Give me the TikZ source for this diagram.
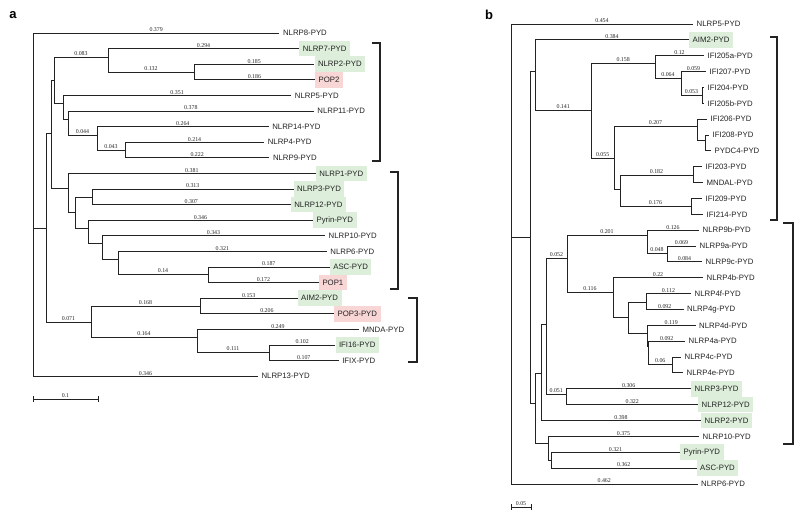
\documentclass[tikz,border=0pt]{standalone}
\usepackage{fontspec}
\setmainfont{Liberation Sans}
\newfontfamily\numfont{Liberation Serif}
\definecolor{greenhl}{RGB}{221,239,219}
\definecolor{pinkhl}{RGB}{249,214,214}
\definecolor{ink}{RGB}{35,35,35}
\tikzset{
  br/.style={line width=0.95pt, draw=ink},
  tip/.style={anchor=west, font=\fontsize{7.8}{8}\selectfont, text=ink, inner xsep=3.5pt, inner ysep=0pt, minimum height=15.6pt},
  gbox/.style={fill=greenhl},
  pbox/.style={fill=pinkhl},
  num/.style={font=\numfont\fontsize{5.9}{6}\selectfont, anchor=south, inner sep=0.6pt, text=ink},
  brk/.style={line width=1.05pt, draw=ink},
  panel/.style={font=\fontsize{13}{13}\selectfont\bfseries, text=black}
}
\newcommand\tedge[3]{\draw[br] (#1) |- node[num,pos=0.75]{#3} (#2);}
\newcommand\pedge[2]{\draw[br] (#1) |- (#2);}
\begin{document}
\begin{tikzpicture}[x=1pt,y=-1pt]
\path[use as bounding box] (0,0) rectangle (800,518);
% ---------------- panel a ----------------
\node[panel] (pa) at (13,15) {a};
% internal nodes
\coordinate (aR) at (33,228);
\coordinate (aA) at (46,228);
\coordinate (aB) at (51,133);
\coordinate (aC) at (54,80);
\coordinate (aE) at (108,57);
\coordinate (aG) at (194,72);
\coordinate (aF) at (63,103);
\coordinate (aH) at (68,119);
\coordinate (aI) at (97,135);
\coordinate (aJ) at (125,150);
\coordinate (aD) at (68,188);
\coordinate (aK) at (75,212);
\coordinate (aL) at (92,197);
\coordinate (aM) at (88,228);
\coordinate (aN) at (102,243);
\coordinate (aO) at (118,259);
\coordinate (aP) at (208,274);
\coordinate (aX) at (91,322);
\coordinate (aY) at (200,306);
\coordinate (aZ) at (197,337);
\coordinate (aW) at (269,352);
% tips
\node[tip] (aNLRP8) at (279.4,33) {NLRP8-PYD};
\node[tip,gbox] (aNLRP7) at (299.1,48.6) {NLRP7-PYD};
\node[tip,gbox] (aNLRP2) at (314.3,64.2) {NLRP2-PYD};
\node[tip,pbox] (aPOP2) at (314.9,79.8) {POP2\hspace{8pt}};
\node[tip] (aNLRP5) at (291.2,95.4) {NLRP5-PYD};
\node[tip] (aNLRP11) at (313.7,111) {NLRP11-PYD};
\node[tip] (aNLRP14) at (268.6,126.6) {NLRP14-PYD};
\node[tip] (aNLRP4) at (264.1,142.2) {NLRP4-PYD};
\node[tip] (aNLRP9) at (269.3,157.8) {NLRP9-PYD};
\node[tip,gbox] (aNLRP1) at (315.7,173.4) {NLRP1-PYD};
\node[tip,gbox] (aNLRP3) at (293.5,189) {NLRP3-PYD};
\node[tip,gbox] (aNLRP12) at (290.6,204.6) {NLRP12-PYD};
\node[tip,gbox] (aPyrin) at (312.9,220.2) {Pyrin-PYD};
\node[tip] (aNLRP10) at (325,235.8) {NLRP10-PYD};
\node[tip] (aNLRP6) at (326.7,251.4) {NLRP6-PYD};
\node[tip,gbox] (aASC) at (329.6,267) {ASC-PYD};
\node[tip,pbox] (aPOP1) at (318.8,282.6) {POP1\hspace{8pt}};
\node[tip,gbox] (aAIM2) at (297.5,298.2) {AIM2-PYD};
\node[tip,pbox] (aPOP3) at (333.9,313.8) {POP3-PYD};
\node[tip] (aMNDA) at (358.9,329.4) {MNDA-PYD};
\node[tip,gbox] (aIFI16) at (335.3,345) {IFI16-PYD};
\node[tip] (aIFIX) at (338.6,360.6) {IFIX-PYD};
\node[tip] (aNLRP13) at (257.9,376.2) {NLRP13-PYD};
% edges
\tedge{aR}{aNLRP8.west}{0.379}
\pedge{aR}{aA}
\tedge{aR}{aNLRP13.west}{0.346}
\pedge{aA}{aB}
\tedge{aA}{aX}{0.071}
\pedge{aB}{aC}
\pedge{aB}{aD}
\tedge{aC}{aE}{0.083}
\pedge{aC}{aF}
\tedge{aE}{aNLRP7.west}{0.294}
\tedge{aE}{aG}{0.132}
\tedge{aG}{aNLRP2.west}{0.185}
\tedge{aG}{aPOP2.west}{0.186}
\tedge{aF}{aNLRP5.west}{0.351}
\pedge{aF}{aH}
\tedge{aH}{aNLRP11.west}{0.378}
\tedge{aH}{aI}{0.044}
\tedge{aI}{aNLRP14.west}{0.264}
\tedge{aI}{aJ}{0.043}
\tedge{aJ}{aNLRP4.west}{0.214}
\tedge{aJ}{aNLRP9.west}{0.222}
\tedge{aD}{aNLRP1.west}{0.381}
\pedge{aD}{aK}
\pedge{aK}{aL}
\pedge{aK}{aM}
\tedge{aL}{aNLRP3.west}{0.313}
\tedge{aL}{aNLRP12.west}{0.307}
\tedge{aM}{aPyrin.west}{0.346}
\pedge{aM}{aN}
\tedge{aN}{aNLRP10.west}{0.343}
\pedge{aN}{aO}
\tedge{aO}{aNLRP6.west}{0.321}
\tedge{aO}{aP}{0.14}
\tedge{aP}{aASC.west}{0.187}
\tedge{aP}{aPOP1.west}{0.172}
\tedge{aX}{aY}{0.168}
\tedge{aX}{aZ}{0.164}
\tedge{aY}{aAIM2.west}{0.153}
\tedge{aY}{aPOP3.west}{0.206}
\tedge{aZ}{aMNDA.west}{0.249}
\tedge{aZ}{aW}{0.111}
\tedge{aW}{aIFI16.west}{0.102}
\tedge{aW}{aIFIX.west}{0.107}
% brackets
\draw[brk] (372,43) -- (380,43) -- (380,161) -- (372,161);
\draw[brk] (390,172) -- (398,172) -- (398,289) -- (390,289);
\draw[brk] (408,298) -- (417,298) -- (417,362) -- (408,362);
% scale bar
\coordinate (sa1) at (33,399);
\coordinate (sa2) at (98,399);
\draw[br, line width=0.75pt] (sa1) -- node[num]{0.1} (sa2);
\draw[br, line width=0.75pt] ([yshift=-3pt]sa1) -- ([yshift=3pt]sa1);
\draw[br, line width=0.75pt] ([yshift=-3pt]sa2) -- ([yshift=3pt]sa2);
% ---------------- panel b ----------------
\node[panel] (pb) at (489,15) {b};
\coordinate (bR) at (511,237);
\coordinate (bA) at (530,237);
\coordinate (bB) at (535,71);
\coordinate (bC) at (591.4,110);
\coordinate (bD) at (655,63);
\coordinate (bE) at (681,78);
\coordinate (bF) at (702,95);
\coordinate (bG) at (614,158);
\coordinate (bH) at (697,126);
\coordinate (bI) at (705,140);
\coordinate (bJK) at (620,189);
\coordinate (bJ) at (693,175);
\coordinate (bK) at (691,206);
\coordinate (bS) at (535,403);
\coordinate (bT) at (541,373);
\coordinate (bU) at (546,324);
\coordinate (bV) at (567,258);
\coordinate (bN9) at (647,235);
\coordinate (bN9ac) at (667,253);
\coordinate (bN4) at (613,292);
\coordinate (bX) at (628,317);
\coordinate (bFG) at (646,302);
\coordinate (bADCE) at (647,333);
\coordinate (bAC) at (648.5,346);
\coordinate (bCE) at (672,364);
\coordinate (bW) at (566.5,394);
\coordinate (bQ) at (548,443);
\coordinate (bRR) at (551,460);
% tips
\node[tip] (bNLRP5) at (693,24) {NLRP5-PYD};
\node[tip,gbox] (bAIM2) at (689,39.9) {AIM2-PYD};
\node[tip] (bIFI205a) at (704,55.7) {IFI205a-PYD};
\node[tip] (bIFI207) at (706,71.6) {IFI207-PYD};
\node[tip] (bIFI204) at (704,87.4) {IFI204-PYD};
\node[tip] (bIFI205b) at (704,103.3) {IFI205b-PYD};
\node[tip] (bIFI206) at (707,119.2) {IFI206-PYD};
\node[tip] (bIFI208) at (709,135) {IFI208-PYD};
\node[tip] (bPYDC4) at (711,150.9) {PYDC4-PYD};
\node[tip] (bIFI203) at (702,166.7) {IFI203-PYD};
\node[tip] (bMNDAL) at (703,182.6) {MNDAL-PYD};
\node[tip] (bIFI209) at (702,198.5) {IFI209-PYD};
\node[tip] (bIFI214) at (703,214.3) {IFI214-PYD};
\node[tip] (bNLRP9b) at (699,230.2) {NLRP9b-PYD};
\node[tip] (bNLRP9a) at (696,246) {NLRP9a-PYD};
\node[tip] (bNLRP9c) at (702,261.9) {NLRP9c-PYD};
\node[tip] (bNLRP4b) at (703,277.8) {NLRP4b-PYD};
\node[tip] (bNLRP4f) at (691,293.6) {NLRP4f-PYD};
\node[tip] (bNLRP4g) at (683.5,309.5) {NLRP4g-PYD};
\node[tip] (bNLRP4d) at (695.5,325.3) {NLRP4d-PYD};
\node[tip] (bNLRP4a) at (685,341.2) {NLRP4a-PYD};
\node[tip] (bNLRP4c) at (681,357.1) {NLRP4c-PYD};
\node[tip] (bNLRP4e) at (683,372.9) {NLRP4e-PYD};
\node[tip,gbox] (bNLRP3) at (691,388.8) {NLRP3-PYD};
\node[tip,gbox] (bNLRP12) at (698,404.6) {NLRP12-PYD};
\node[tip,gbox] (bNLRP2) at (701,420.5) {NLRP2-PYD};
\node[tip] (bNLRP10) at (699,436.4) {NLRP10-PYD};
\node[tip,gbox] (bPyrin) at (680,452.2) {Pyrin-PYD};
\node[tip,gbox] (bASC) at (696.5,468.1) {ASC-PYD};
\node[tip] (bNLRP6) at (697.5,484) {NLRP6-PYD};
% edges
\tedge{bR}{bNLRP5.west}{0.454}
\pedge{bR}{bA}
\tedge{bR}{bNLRP6.west}{0.462}
\pedge{bA}{bB}
\pedge{bA}{bS}
\tedge{bB}{bAIM2.west}{0.384}
\tedge{bB}{bC}{0.141}
\tedge{bC}{bD}{0.158}
\tedge{bC}{bG}{0.055}
\tedge{bD}{bIFI205a.west}{0.12}
\tedge{bD}{bE}{0.064}
\tedge{bE}{bIFI207.west}{0.059}
\tedge{bE}{bF}{0.053}
\pedge{bF}{bIFI204.west}
\pedge{bF}{bIFI205b.west}
\tedge{bG}{bH}{0.207}
\pedge{bG}{bJK}
\pedge{bH}{bIFI206.west}
\pedge{bH}{bI}
\pedge{bI}{bIFI208.west}
\pedge{bI}{bPYDC4.west}
\tedge{bJK}{bJ}{0.182}
\tedge{bJK}{bK}{0.176}
\pedge{bJ}{bIFI203.west}
\pedge{bJ}{bMNDAL.west}
\pedge{bK}{bIFI209.west}
\pedge{bK}{bIFI214.west}
\pedge{bS}{bT}
\pedge{bS}{bQ}
\pedge{bT}{bU}
\tedge{bT}{bNLRP2.west}{0.398}
\tedge{bU}{bV}{0.052}
\tedge{bU}{bW}{0.051}
\tedge{bV}{bN9}{0.201}
\tedge{bV}{bN4}{0.116}
\tedge{bN9}{bNLRP9b.west}{0.126}
\tedge{bN9}{bN9ac}{0.048}
\tedge{bN9ac}{bNLRP9a.west}{0.069}
\tedge{bN9ac}{bNLRP9c.west}{0.084}
\tedge{bN4}{bNLRP4b.west}{0.22}
\pedge{bN4}{bX}
\pedge{bX}{bFG}
\pedge{bX}{bADCE}
\tedge{bFG}{bNLRP4f.west}{0.112}
\tedge{bFG}{bNLRP4g.west}{0.092}
\tedge{bADCE}{bNLRP4d.west}{0.119}
\pedge{bADCE}{bAC}
\tedge{bAC}{bNLRP4a.west}{0.092}
\tedge{bAC}{bCE}{0.06}
\pedge{bCE}{bNLRP4c.west}
\pedge{bCE}{bNLRP4e.west}
\tedge{bW}{bNLRP3.west}{0.306}
\tedge{bW}{bNLRP12.west}{0.322}
\tedge{bQ}{bNLRP10.west}{0.375}
\pedge{bQ}{bRR}
\tedge{bRR}{bPyrin.west}{0.321}
\tedge{bRR}{bASC.west}{0.362}
% brackets
\draw[brk] (770,37) -- (777,37) -- (777,220) -- (770,220);
\draw[brk] (783,223) -- (793,223) -- (793,444) -- (783,444);
% scale bar
\coordinate (sb1) at (511,507);
\coordinate (sb2) at (531,507);
\draw[br, line width=0.75pt] (sb1) -- node[num]{0.05} (sb2);
\draw[br, line width=0.75pt] ([yshift=-3pt]sb1) -- ([yshift=3pt]sb1);
\draw[br, line width=0.75pt] ([yshift=-3pt]sb2) -- ([yshift=3pt]sb2);
\end{tikzpicture}
\end{document}
